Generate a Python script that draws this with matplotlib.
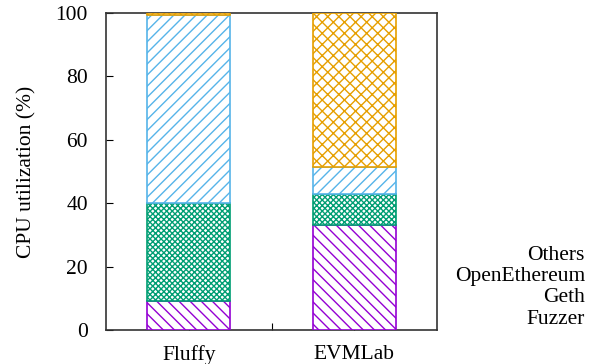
import matplotlib
matplotlib.use("Agg")
import matplotlib.pyplot as plt

plt.rcParams['font.family'] = ['Liberation Serif', 'DejaVu Serif']
plt.rcParams['hatch.linewidth'] = 1.0

# data (percent of CPU time)
systems = ["Fluffy", "EVMLab"]
components = ["Fuzzer", "Geth", "OpenEthereum", "Others"]
fuzzer = [9.2, 33.1]
geth = [30.8, 9.8]
open_ethereum = [59.3, 8.6]
others = [0.7, 48.5]

colors = ["#9400D3", "#009E73", "#56B4E9", "#E69F00"]
hatches = ["\\\\\\", "xxxxxx", "///", "xxx"]

fig = plt.figure(figsize=(5.89, 3.64), dpi=100)
ax = fig.add_axes([106 / 589, 34 / 364, 331 / 589, 317 / 364])

x = [0, 1]
bottom = [0.0, 0.0]
for vals, col, hat in zip([fuzzer, geth, open_ethereum, others], colors, hatches):
    ax.bar(x, vals, width=0.5, bottom=bottom, facecolor="white",
           edgecolor=col, hatch=hat, linewidth=1.2, zorder=3)
    bottom = [b + v for b, v in zip(bottom, vals)]

ax.set_xlim(-0.5, 1.5)
ax.set_ylim(0, 100)
ax.set_xticks([0, 0.5, 1])
ax.set_xticklabels([systems[0], "", systems[1]])
ax.set_yticks(range(0, 101, 20))
ax.tick_params(direction="in", length=5, labelsize=15.5, top=False, right=False)
ax.tick_params(axis="y", pad=13)
ax.tick_params(axis="x", pad=11)
for s in ax.spines.values():
    s.set_linewidth(1.2)
    s.set_color("#333333")
ax.set_ylabel("CPU utilization (%)", fontsize=15.5, labelpad=14)

# legend as plain text labels, top to bottom
legend_y = [255, 276, 298, 319]
for name, yy in zip(components[::-1], legend_y):
    fig.text(585 / 589, 1 - yy / 364, name, ha="right", va="center", fontsize=15.5)

fig.savefig("out.png", dpi=100)
